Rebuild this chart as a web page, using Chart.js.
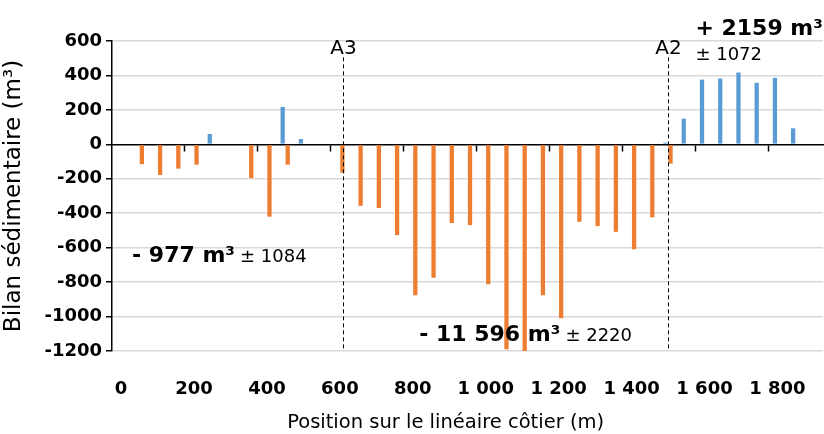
<!DOCTYPE html>
<html>
<head>
<meta charset="utf-8">
<script src="https://cdn.jsdelivr.net/npm/chart.js@4.4.0/dist/chart.umd.min.js"></script>
<style>
html, body { margin: 0; padding: 0; background: #fff; }
</style>
</head>
<body>
<canvas id="myChart" width="824" height="434"></canvas>
<script>
// positions le long du littoral (m), une barre tous les 50 m
const positions = [0, 50, 100, 150, 200, 250, 300, 350, 400, 450, 500, 550, 600, 650, 700, 750,
  800, 850, 900, 950, 1000, 1050, 1100, 1150, 1200, 1250, 1300, 1350, 1400, 1450, 1500, 1550,
  1600, 1650, 1700, 1750, 1800, 1850, 1900];
const gains = [null, null, null, null, null, 60, null, null, null, 217, 31, null, null, null, null, null,
  null, null, null, null, null, null, null, null, null, null, null, null, null, null, 10, 149,
  376, 382, 417, 357, 386, 93, null];
const pertes = [null, -115, -178, -141, -118, null, null, -196, -420, -118, null, null, -165, -357, -370, -527,
  -876, -775, -457, -469, -812, -1190, -1205, -876, -1010, -450, -475, -508, -609, -424, -112, null,
  null, null, null, null, null, null, null];
const xTickLabels = ['0', '200', '400', '600', '800', '1 000', '1 200', '1 400', '1 600', '1 800'];
const yTicks = [600, 400, 200, 0, -200, -400, -600, -800, -1000, -1200];

// limites des secteurs
const sectionNames = ['A3', 'A2'];
const sectionPos = [608, 1500];

// bilans par secteur
const bilans = ['- 977 m³', '- 11 596 m³', '+ 2159 m³'];
const incertitudes = ['± 1084', '± 2220', '± 1072'];

const FONT = '"DejaVu Sans", "Liberation Sans", sans-serif';

const notesPlugin = {
  id: 'notes',
  afterDraw(chart) {
    const ctx = chart.ctx;
    const x = chart.scales.x;
    const y = chart.scales.y;
    ctx.save();
    ctx.fillStyle = '#000';
    ctx.strokeStyle = '#000';
    ctx.lineWidth = 1;
    ctx.setLineDash([4, 3]);
    sectionPos.forEach((p, i) => {
      const px = Math.round(x.getPixelForValue(p / 50)) + 0.5;
      ctx.beginPath();
      ctx.moveTo(px, y.getPixelForValue(505));
      ctx.lineTo(px, y.getPixelForValue(-1200));
      ctx.stroke();
      ctx.font = '20px ' + FONT;
      ctx.textAlign = 'center';
      ctx.textBaseline = 'alphabetic';
      ctx.fillText(sectionNames[i], px, y.getPixelForValue(522));
    });
    ctx.setLineDash([]);

    const bold = 'bold 22px ' + FONT;
    const small = '18px ' + FONT;
    ctx.textAlign = 'left';
    // secteur ouest et central : bilan puis incertitude sur la meme ligne
    [[0.6, -684, 0], [16.35, -1144, 1]].forEach(([ix, v, k]) => {
      const px = x.getPixelForValue(ix);
      const py = y.getPixelForValue(v);
      ctx.font = bold;
      ctx.fillText(bilans[k], px, py);
      const w = ctx.measureText(bilans[k]).width;
      ctx.font = small;
      ctx.fillText(incertitudes[k], px + w + 5, py);
    });
    // secteur est : incertitude en dessous
    const ex = x.getPixelForValue(31.5);
    ctx.font = bold;
    ctx.fillText(bilans[2], ex, y.getPixelForValue(635));
    ctx.font = small;
    ctx.fillText(incertitudes[2], ex, y.getPixelForValue(490));

    // titre de l'axe horizontal
    ctx.font = '19.5px ' + FONT;
    ctx.textAlign = 'center';
    ctx.fillText('Position sur le linéaire côtier (m)', x.getPixelForValue(17.8), chart.height - 6);
    ctx.restore();
  }
};

new Chart(document.getElementById('myChart'), {
  type: 'bar',
  data: {
    labels: positions,
    datasets: [
      { label: 'Accrétion', data: gains, backgroundColor: '#5B9BD5', borderWidth: 0,
        categoryPercentage: 0.55, barPercentage: 0.85 },
      { label: 'Érosion', data: pertes, backgroundColor: '#ED7D31', borderWidth: 0,
        categoryPercentage: 0.55, barPercentage: 0.85 }
    ]
  },
  options: {
    responsive: false,
    animation: false,
    devicePixelRatio: 1,
    layout: { padding: { top: 41, right: 1, bottom: 0, left: 0 } },
    plugins: { legend: { display: false }, tooltip: { enabled: false } },
    scales: {
      x: {
        type: 'category',
        position: { y: 0 },
        offset: true,
        ticks: { display: false },
        grid: {
          offset: true,
          drawOnChartArea: false,
          drawTicks: true,
          tickLength: 6,
          tickWidth: 1.5,
          tickColor: (c) => (c.index > 0 && c.index % 4 === 0) ? '#000' : 'rgba(0,0,0,0)'
        },
        border: { display: true, color: '#000', width: 1.5 },
        afterFit: (s) => { s.height = 0; s.paddingLeft = 0; s.paddingRight = 0; }
      },
      xl: {
        type: 'category',
        position: 'bottom',
        offset: true,
        grid: { display: false },
        border: { display: false },
        ticks: {
          autoSkip: false,
          maxRotation: 0,
          padding: 20,
          color: '#000',
          font: { family: FONT, size: 18, weight: 'bold' },
          callback: (v, i) => (i % 4 === 0 ? xTickLabels[i / 4] : '')
        },
        afterFit: (s) => { s.height = 83; s.paddingLeft = 0; s.paddingRight = 0; }
      },
      y: {
        min: -1200,
        max: 600,
        afterBuildTicks: (s) => { s.ticks = yTicks.map(v => ({ value: v })); },
        ticks: {
          padding: 4,
          color: '#000',
          font: { family: FONT, size: 18, weight: 'bold' },
          callback: (v) => String(v)
        },
        grid: {
          color: (c) => c.tick && c.tick.value === 0 ? 'rgba(0,0,0,0)' : '#d9d9d9',
          lineWidth: 1.5,
          drawTicks: true,
          tickLength: 6,
          tickColor: '#000',
          tickWidth: 1.5
        },
        border: { display: true, color: '#000', width: 1.5 },
        title: {
          display: true,
          text: 'Bilan sédimentaire (m³)',
          color: '#000',
          font: { family: FONT, size: 23, lineHeight: 1 },
          padding: { top: 3, bottom: 0 }
        },
        afterFit: (s) => { s.width = 112; }
      }
    }
  },
  plugins: [notesPlugin]
});
</script>
</body>
</html>
